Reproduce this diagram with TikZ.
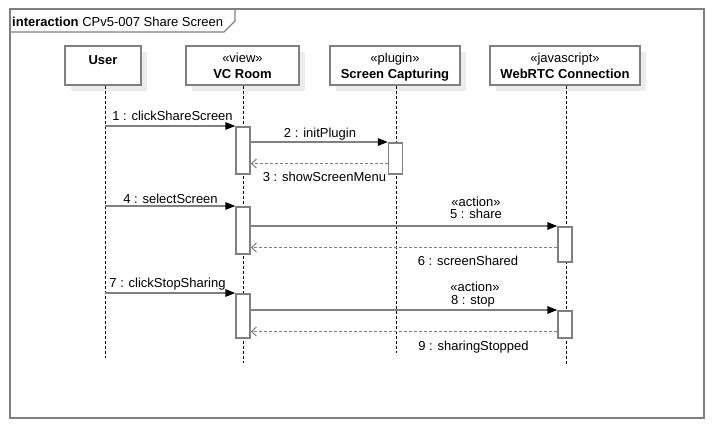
\documentclass[tikz,border=0pt]{standalone}
\usepackage{fontspec}
\setmainfont{Liberation Sans}
\usetikzlibrary{arrows.meta,shadows}
\definecolor{lg}{RGB}{128,128,128}
\definecolor{shd}{RGB}{236,236,236}
\begin{document}
\begin{tikzpicture}[x=1pt,y=-1pt,
  font=\fontsize{13}{16}\selectfont,
  head/.style={draw=lg,line width=1.8pt,fill=white,rectangle,inner sep=0pt,minimum height=39pt,align=center,text depth=0pt,
    drop shadow={shadow xshift=6pt,shadow yshift=-6pt,fill=shd,draw=none,opacity=1}},
  act/.style={draw=lg,line width=1.5pt,fill=white,minimum width=14pt,inner sep=0pt,anchor=north},
  life/.style={draw=black,line width=1pt,dash pattern=on 3pt off 2pt},
  msg/.style={draw=lg,line width=1.5pt,-{Triangle[length=10pt,width=7.5pt,color=black]}},
  ret/.style={draw=lg,line width=1.5pt,dash pattern=on 3pt off 2pt,-{Straight Barb[length=5pt,width=9pt,line width=1pt]}},
  lbl/.style={anchor=base,inner sep=0pt},
  frm/.style={draw=lg,line width=1.8pt}
]
\useasboundingbox (0,0) rectangle (714,428);
% frame
\draw[frm] (10,9) rectangle (704,418);
\draw[lg,line width=1.3pt] (10,32) -- (224,32) -- (235,21) -- (235,9);
\node[anchor=base west,inner sep=0pt] (title) at (12,26.5) {\textbf{interaction} CPv5-007 Share Screen};
% heads
\node[head,minimum width=76pt,text depth=10pt] (user) at (103,65.5) {\textbf{User}};
\node[head,minimum width=113pt] (vc) at (242.5,65.5) {«view»\\\textbf{VC Room}};
\node[head,minimum width=130pt] (sc) at (395,65.5) {«plugin»\\\textbf{Screen Capturing}};
\node[head,minimum width=150pt] (web) at (565,65.5) {«javascript»\\\textbf{WebRTC Connection}};
% lifelines
\coordinate (uend) at (105,358);
\coordinate (vend) at (243,363);
\coordinate (send) at (396,353);
\coordinate (wend) at (566.5,365);
\draw[life] (user.south -| uend) -- (uend);
\draw[life] (vc.south -| vend) -- (vend);
\draw[life] (sc.south -| send) -- (send);
\draw[life] (web.south -| wend) -- (wend);
% activations
\node[act,minimum height=47pt] (a1) at (243,126) {};
\node[act,minimum height=31pt] (a2) at (395.5,142) {};
\node[act,minimum height=47pt] (a3) at (243,206) {};
\node[act,minimum height=35pt] (a4) at (565,226) {};
\node[act,minimum height=44pt] (a5) at (243,293) {};
\node[act,minimum height=27pt] (a6) at (565,310) {};
% message ends on the User lifeline
\coordinate (u1) at (105,126);
\coordinate (u4) at (105,206);
\coordinate (u7) at (105,293);
% messages
\draw[msg] (u1) -- (a1.north west);
\draw[msg] (a1.east |- a2.north) -- (a2.north west);
\path ([yshift=11pt]a2.south west) coordinate (r3);
\draw[ret] (r3) -- (a1.east |- r3);
\draw[msg] (u4) -- (a3.north west);
\draw[msg] (a3.east |- a4.north) -- (a4.north west);
\path ([yshift=15pt]a4.south west) coordinate (r6);
\draw[ret] (r6) -- (a3.east |- r6);
\draw[msg] (u7) -- (a5.north west);
\draw[msg] (a5.east |- a6.north) -- (a6.north west);
\path ([yshift=7pt]a6.south west) coordinate (r9);
\draw[ret] (r9) -- (a5.east |- r9);
% labels
\node[lbl] (l1) at (172.5,120) {1 : clickShareScreen};
\node[lbl] (l2) at (320,137.5) {2 : initPlugin};
\node[lbl] (l3) at (324.5,181.5) {3 : showScreenMenu};
\node[lbl] (l4) at (170.5,203.3) {4 : selectScreen};
\node[lbl] (s5) at (476,206.5) {«action»};
\node[lbl] (l5) at (476,218.5) {5 : share};
\node[lbl] (l6) at (468,265) {6 : screenShared};
\node[lbl] (l7) at (167.5,287) {7 : clickStopSharing};
\node[lbl] (s8) at (475,291.5) {«action»};
\node[lbl] (l8) at (473,304) {8 : stop};
\node[lbl] (l9) at (473.5,350.5) {9 : sharingStopped};
\end{tikzpicture}
\end{document}
